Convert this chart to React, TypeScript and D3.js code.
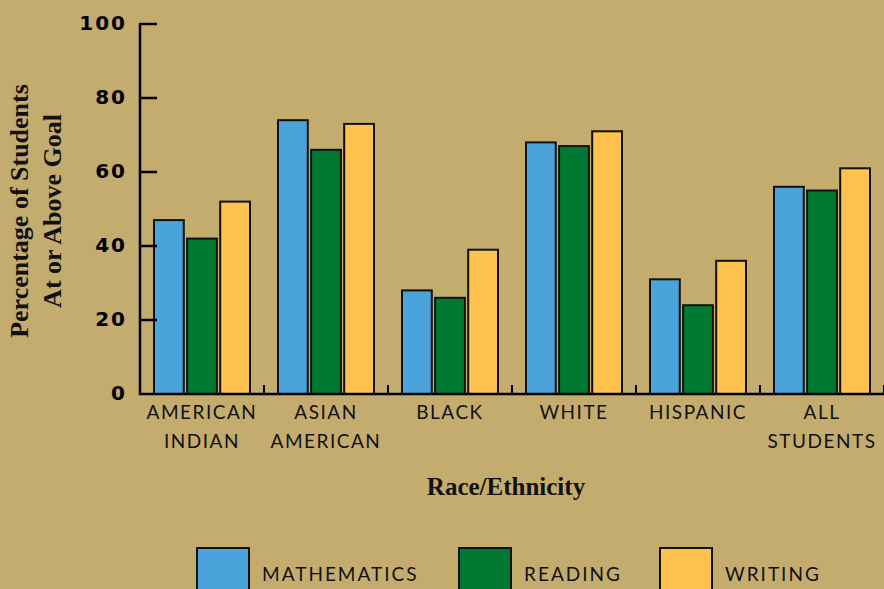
import React from "react";
import * as d3 from "d3";

const categories = ["AMERICAN\nINDIAN", "ASIAN\nAMERICAN", "BLACK", "WHITE", "HISPANIC", "ALL\nSTUDENTS"];
const seriesNames = ["MATHEMATICS", "READING", "WRITING"];
const mathematics = [47, 74, 28, 68, 31, 56];
const reading = [42, 66, 26, 67, 24, 55];
const writing = [52, 73, 39, 71, 36, 61];
const yTicks = [0, 20, 40, 60, 80, 100];
const colors = ["#4BA3DC", "#007A33", "#FFC24F"];

const W = 884;
const H = 589;
const BG = "#C4AC6F";
const serif = "'Liberation Serif', 'DejaVu Serif', serif";
const sans = "Lato, 'Open Sans', sans-serif";

export default function App() {
  const values = [mathematics, reading, writing];
  const x0 = d3.scaleBand<string>().domain(categories).range([140, 884]).paddingInner(0).paddingOuter(0);
  const x1 = d3.scaleBand<string>().domain(seriesNames).range([14, 110]).paddingInner(0.1);
  const y = d3.scaleLinear().domain([0, 100]).range([394, 24]);
  const legendX = [197, 459, 660];

  return (
    <svg width={W} height={H} style={{ position: "absolute", left: 0, top: 0, background: BG }}>
      <rect x={0} y={0} width={W} height={H} fill={BG} />
      {/* bars */}
      {categories.map((c, ci) => (
        <g key={c} transform={`translate(${x0(c)},0)`}>
          {seriesNames.map((s, si) => (
            <rect
              key={s}
              x={x1(s)}
              y={y(values[si][ci])}
              width={x1.bandwidth()}
              height={y(0) - y(values[si][ci])}
              fill={colors[si]}
              stroke="#111"
              strokeWidth={2}
            />
          ))}
        </g>
      ))}
      {/* y axis */}
      <line x1={140} x2={140} y1={23} y2={395} stroke="#000" strokeWidth={2.5} />
      {yTicks.map((t) => (
        <g key={t}>
          {t > 0 && <line x1={140} x2={157} y1={y(t)} y2={y(t)} stroke="#000" strokeWidth={2.5} />}
          <text
            x={127}
            y={y(t)}
            textAnchor="end"
            dominantBaseline="middle"
            fontFamily="'DejaVu Sans', sans-serif"
            fontWeight="bold"
            fontSize={20}
            letterSpacing={2}
            fill="#000"
          >
            {t}
          </text>
        </g>
      ))}
      {/* x axis */}
      <line x1={139} x2={884} y1={394} y2={394} stroke="#000" strokeWidth={2.5} />
      {categories.map((c) => (
        <line key={"sep" + c} x1={x0(c)! + x0.bandwidth()} x2={x0(c)! + x0.bandwidth()} y1={394} y2={385} stroke="#000" strokeWidth={2} />
      ))}
      {categories.map((c) => (
        <text
          key={"lbl" + c}
          x={x0(c)! + 62}
          y={419}
          textAnchor="middle"
          fontFamily={sans}
          fontSize={19}
          letterSpacing={1.5}
          fill="#111"
        >
          {c.split("\n").map((line, i) => (
            <tspan key={i} x={x0(c)! + 62} dy={i === 0 ? 0 : 29}>
              {line}
            </tspan>
          ))}
        </text>
      ))}
      <text x={506} y={495} textAnchor="middle" fontFamily={serif} fontWeight="bold" fontSize={25} fill="#111">
        Race/Ethnicity
      </text>
      {/* y title */}
      <g transform="translate(28,211) rotate(-90)">
        <text x={0} y={0} textAnchor="middle" fontFamily={serif} fontWeight="bold" fontSize={26} fill="#111">
          Percentage of Students
        </text>
        <text x={0} y={33} textAnchor="middle" fontFamily={serif} fontWeight="bold" fontSize={26} fill="#111">
          At or Above Goal
        </text>
      </g>
      {/* legend */}
      {seriesNames.map((s, i) => (
        <g key={"leg" + s}>
          <rect x={legendX[i]} y={548} width={52} height={60} fill={colors[i]} stroke="#111" strokeWidth={2} />
          <text x={legendX[i] + 65} y={581} fontFamily={sans} fontSize={19} letterSpacing={2} fill="#111">
            {s}
          </text>
        </g>
      ))}
    </svg>
  );
}
